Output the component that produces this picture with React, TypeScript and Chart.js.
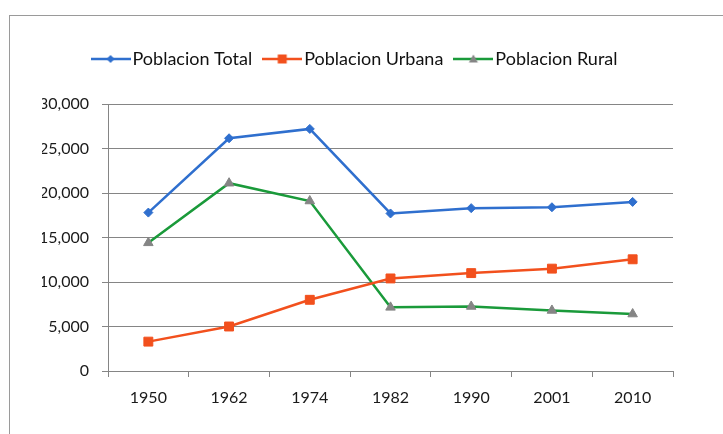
import React, { useEffect, useRef } from "react";
import { Chart, registerables } from "chart.js";

Chart.register(...registerables);

const categories = ["1950", "1962", "1974", "1982", "1990", "2001", "2010"];
const poblacionTotal = [17800, 26150, 27200, 17700, 18300, 18400, 19000];
const poblacionUrbana = [3300, 5000, 8000, 10400, 11000, 11500, 12550];
const poblacionRural = [14400, 21100, 19100, 7150, 7250, 6800, 6400];
const seriesNames = ["Poblacion Total", "Poblacion Urbana", "Poblacion Rural"];

const BLUE = "#2f6fce";
const ORANGE = "#f2501d";
const GREEN = "#1a9a3a";
const GRAY = "#858585";
const FONT = "Lato, 'Open Sans', sans-serif";

function makeIcon(kind: string, lineColor: string, markerColor: string) {
  const c = document.createElement("canvas");
  c.width = 40;
  c.height = 14;
  const ctx = c.getContext("2d")!;
  ctx.strokeStyle = lineColor;
  ctx.lineWidth = 2.5;
  ctx.beginPath();
  ctx.moveTo(0, 7);
  ctx.lineTo(40, 7);
  ctx.stroke();
  ctx.fillStyle = markerColor;
  ctx.beginPath();
  if (kind === "diamond") {
    ctx.moveTo(20, 3);
    ctx.lineTo(24, 7);
    ctx.lineTo(20, 11);
    ctx.lineTo(16, 7);
  } else if (kind === "square") {
    ctx.rect(15.5, 2.5, 9, 9);
  } else {
    ctx.moveTo(20, 2.5);
    ctx.lineTo(24.5, 10.5);
    ctx.lineTo(15.5, 10.5);
  }
  ctx.closePath();
  ctx.fill();
  return c;
}

const framePlugin = {
  id: "frame",
  beforeDraw(chart: any) {
    const ctx = chart.ctx;
    ctx.save();
    ctx.fillStyle = "#ffffff";
    ctx.fillRect(0, 0, chart.width, chart.height);
    ctx.strokeStyle = "#9a9a9a";
    ctx.lineWidth = 1;
    ctx.strokeRect(9.5, 15.5, 900, 600);
    ctx.restore();
  },
};

const legendFitPlugin = {
  id: "legendFit",
  beforeInit(chart: any) {
    const legend = chart.legend;
    if (!legend) return;
    const orig = legend.fit;
    legend.fit = function () {
      orig.call(this);
      this.height = 71;
    };
  },
};

export default function App() {
  const ref = useRef<HTMLCanvasElement | null>(null);

  useEffect(() => {
    document.body.style.margin = "0";
    const icons = [
      makeIcon("diamond", BLUE, BLUE),
      makeIcon("square", ORANGE, ORANGE),
      makeIcon("triangle", GREEN, GRAY),
    ];
    const chart = new Chart(ref.current!, {
      type: "line",
      data: {
        labels: categories,
        datasets: [
          {
            label: seriesNames[0],
            data: poblacionTotal,
            borderColor: BLUE,
            backgroundColor: BLUE,
            borderWidth: 2.5,
            pointStyle: "rectRot",
            pointRadius: 4.5,
            pointBorderWidth: 1,
            tension: 0,
          },
          {
            label: seriesNames[1],
            data: poblacionUrbana,
            borderColor: ORANGE,
            backgroundColor: ORANGE,
            borderWidth: 2.5,
            pointStyle: "rect",
            pointRadius: 6.3,
            pointBorderWidth: 1,
            tension: 0,
          },
          {
            label: seriesNames[2],
            data: poblacionRural,
            borderColor: GREEN,
            backgroundColor: GRAY,
            pointBorderColor: GRAY,
            borderWidth: 2.5,
            pointStyle: "triangle",
            pointRadius: 5.5,
            pointBorderWidth: 1,
            tension: 0,
          },
        ],
      },
      options: {
        responsive: false,
        animation: false,
        layout: { padding: { top: 33, left: 42, right: 50, bottom: 0 } },
        plugins: {
          tooltip: { enabled: false },
          legend: {
            display: true,
            position: "top",
            labels: {
              usePointStyle: true,
              pointStyleWidth: 26,
              padding: 17,
              color: "#111111",
              font: { family: FONT, size: 18 },
              generateLabels(chart: any) {
                const items = Chart.defaults.plugins.legend.labels.generateLabels(chart);
                return items.map((it: any, i: number) => ({ ...it, pointStyle: icons[i] }));
              },
            },
          },
        },
        scales: {
          x: {
            offset: true,
            grid: {
              offset: true,
              drawOnChartArea: false,
              drawTicks: true,
              tickLength: 6,
              color: GRAY,
            },
            border: { color: GRAY, width: 1 },
            ticks: {
              color: "#1a1a1a",
              font: { family: FONT, size: 16 },
              padding: 11,
              maxRotation: 0,
            },
            afterFit(scale: any) {
              scale.height = 63;
            },
          },
          y: {
            min: 0,
            max: 30000,
            grid: {
              color: GRAY,
              drawTicks: true,
              tickLength: 6,
            },
            border: { color: GRAY, width: 1 },
            ticks: {
              stepSize: 5000,
              color: "#1a1a1a",
              font: { family: FONT, size: 16 },
              padding: 13,
            },
            afterFit(scale: any) {
              scale.width = 66;
            },
          },
        },
      },
      plugins: [framePlugin, legendFitPlugin],
    });
    return () => chart.destroy();
  }, []);

  return (
    <canvas
      ref={ref}
      width={723}
      height={434}
      style={{ display: "block", width: 723, height: 434 }}
    />
  );
}
